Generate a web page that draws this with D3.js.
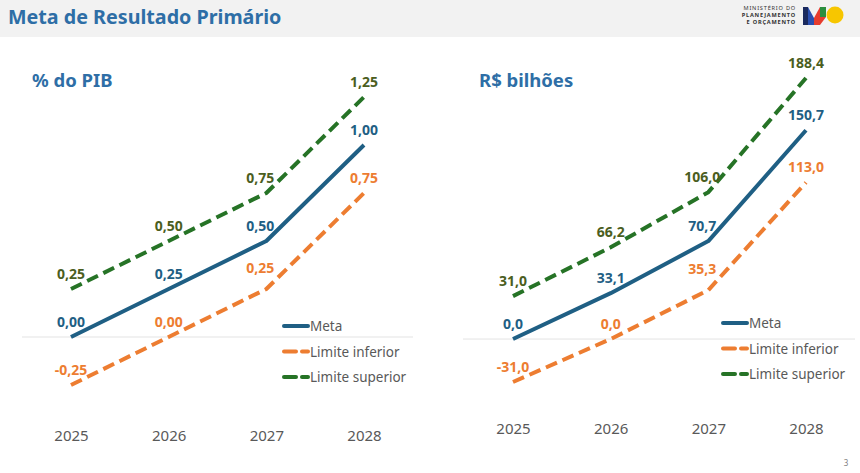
<!DOCTYPE html>
<html><head><meta charset="utf-8">
<script src="https://cdn.jsdelivr.net/npm/d3@7"></script>
<style>body{margin:0;background:#fff}svg{display:block}</style>
</head><body>
<svg id="c" width="860" height="473"></svg>
<script>
const years = ["2025","2026","2027","2028"];
const pibMeta = [0.00, 0.25, 0.50, 1.00];
const pibInferior = [-0.25, 0.00, 0.25, 0.75];
const pibSuperior = [0.25, 0.50, 0.75, 1.25];
const brlMeta = [0.0, 33.1, 70.7, 150.7];
const brlInferior = [-31.0, 0.0, 35.3, 113.0];
const brlSuperior = [31.0, 66.2, 106.0, 188.4];
const seriesNames = ["Meta", "Limite inferior", "Limite superior"];

const svg = d3.select("#c");
const FONT = "'Noto Sans', 'Open Sans', sans-serif";
const C = {meta:"#1f5f84", inf:"#ed7d31", sup:"#267326", supText:"#4b5e1e", axis:"#595959", title:"#2e6ea6"};

// header band
svg.append("rect").attr("x",0).attr("y",0).attr("width",860).attr("height",37).attr("fill","#f2f2f2");
svg.append("text").attr("x",8).attr("y",24).attr("font-family",FONT).attr("font-weight","700")
  .attr("font-size",19.7).attr("fill",C.title).text("Meta de Resultado Primário");
// logo
const lg = svg.append("g").attr("font-family",FONT).attr("font-size",5.6).attr("font-weight","700")
  .attr("fill","#333").attr("text-anchor","end").attr("letter-spacing",0.8);
lg.append("text").attr("x",796).attr("y",10).attr("font-weight","400").text("MINISTÉRIO DO");
lg.append("text").attr("x",796).attr("y",17).text("PLANEJAMENTO");
lg.append("text").attr("x",796).attr("y",24).text("E ORÇAMENTO");
const L = svg.append("g");
L.append("polygon").attr("points","803,7 808,7 808,25 803,25").attr("fill","#1a2a5e");
L.append("polygon").attr("points","808,7 814,18 814,25 808,25").attr("fill","#2a4fb0");
L.append("polygon").attr("points","814,18 820,7 820,25 814,25").attr("fill","#e63c2e");
L.append("polygon").attr("points","820,7 826,7 826,17 820,17").attr("fill","#2a8f3f");
L.append("polygon").attr("points","820,17 826,17 820,25").attr("fill","#e63c2e");
L.append("circle").attr("cx",835).attr("cy",15).attr("r",8.5).attr("fill","#f7c600");
svg.append("text").attr("x",846).attr("y",466).attr("font-family",FONT).attr("font-size",8)
  .attr("fill","#7f7f7f").attr("text-anchor","middle").text("3");

function chart(opts){
  const g = svg.append("g");
  const x = d3.scalePoint().domain(years).range(opts.xr);
  const y = d3.scaleLinear().domain(opts.yd).range(opts.yr);
  g.append("text").attr("x",opts.tx).attr("y",87).attr("font-family",FONT).attr("font-weight","700")
    .attr("font-size",18.5).attr("fill",C.title).text(opts.title);
  // zero line
  g.append("line").attr("x1",opts.zx[0]).attr("x2",opts.zx[1]).attr("y1",y(0)).attr("y2",y(0))
    .attr("stroke","#e3e3e3").attr("stroke-width",1);
  // axis
  const ax = g.append("g").attr("transform",`translate(0,${opts.axisY})`)
    .call(d3.axisBottom(x).tickSize(0).tickPadding(0));
  ax.select(".domain").remove();
  ax.selectAll("text").attr("font-family",FONT).attr("font-size",15).attr("fill",C.axis);
  const line = d3.line().x((d,i)=>x(years[i])).y(d=>y(d));
  const ser = [
    {v:opts.sup, c:C.sup, tc:C.supText, dash:"12,6"},
    {v:opts.inf, c:C.inf, tc:C.inf, dash:"12,6"},
    {v:opts.meta, c:C.meta, tc:C.meta, dash:null}
  ];
  ser.forEach(s=>{
    g.append("path").datum(s.v).attr("d",line).attr("fill","none").attr("stroke",s.c)
      .attr("stroke-width",4).attr("stroke-dasharray",s.dash).attr("stroke-linejoin","round");
  });
  ser.forEach((s,si)=>{
    g.selectAll(null).data(s.v).enter().append("text")
      .attr("x",(d,i)=>x(years[i]) + (i===2 ? -6 : 0))
      .attr("y",(d,i)=>y(d) - (si===1 && i===2 ? 16 : 10))
      .attr("text-anchor","middle").attr("font-family",FONT).attr("font-weight","700")
      .attr("font-size",14).attr("fill",s.tc).text(d=>opts.fmt(d));
  });
  // legend
  const lgd = g.append("g").attr("transform",`translate(${opts.lx},${opts.ly})`);
  const cols = [C.meta, C.inf, C.sup];
  seriesNames.forEach((n,i)=>{
    const yy = i*25.5;
    if(i===0){
      lgd.append("line").attr("x1",0).attr("x2",24).attr("y1",yy).attr("y2",yy)
        .attr("stroke",cols[i]).attr("stroke-width",4).attr("stroke-linecap","round");
    } else {
      lgd.append("line").attr("x1",0).attr("x2",12).attr("y1",yy).attr("y2",yy)
        .attr("stroke",cols[i]).attr("stroke-width",4).attr("stroke-linecap","round");
      lgd.append("line").attr("x1",18).attr("x2",24).attr("y1",yy).attr("y2",yy)
        .attr("stroke",cols[i]).attr("stroke-width",4).attr("stroke-linecap","round");
    }
    lgd.append("text").attr("x",26).attr("y",yy+5).attr("font-family",FONT).attr("font-size",13.5)
      .attr("fill",C.axis).text(n);
  });
}

const fmt2 = d=>d.toFixed(2).replace(".",",");
const fmt1 = d=>d.toFixed(1).replace(".",",");

chart({title:"% do PIB", tx:32, xr:[71,364], yd:[-0.25,1.25], yr:[385,97], zx:[22,413], axisY:430,
  meta:pibMeta, inf:pibInferior, sup:pibSuperior, fmt:fmt2, lx:284, ly:326});
chart({title:"R$ bilhões", tx:479, xr:[513,806], yd:[-31,188.4], yr:[382,78], zx:[463,855], axisY:423,
  meta:brlMeta, inf:brlInferior, sup:brlSuperior, fmt:fmt1, lx:723, ly:323});
</script>
</body></html>
